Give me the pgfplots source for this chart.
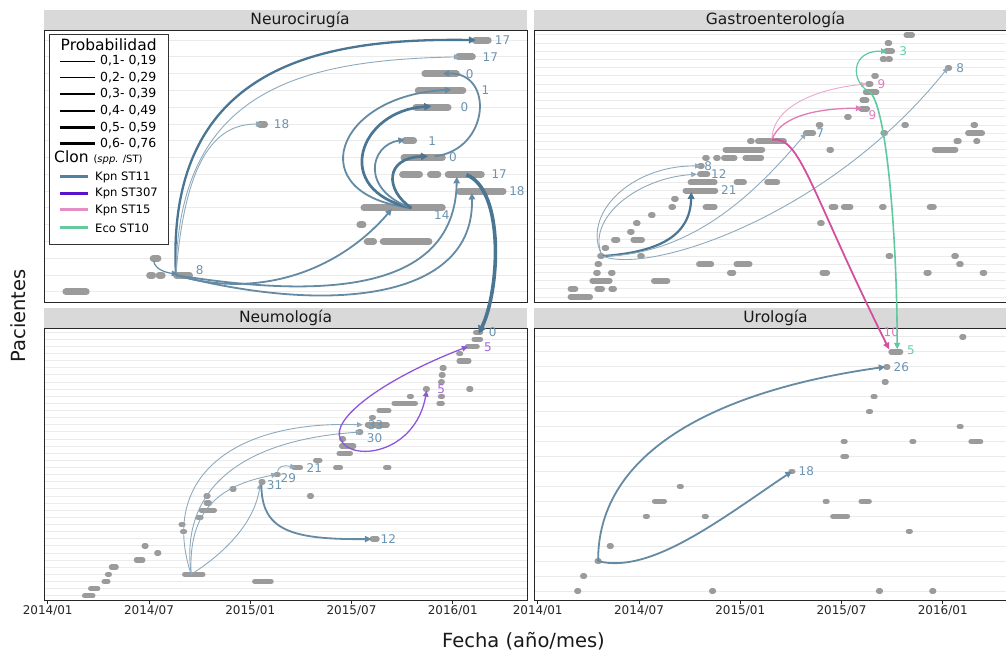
\documentclass[border=0pt]{standalone}
\usepackage{pgfplots}
\pgfplotsset{compat=1.18}
\usepackage{fontspec}
\setmainfont{DejaVu Sans}
\usetikzlibrary{arrows.meta}
\definecolor{st11}{RGB}{74,118,148}
\colorlet{st11a}{st11!62!white}
\colorlet{st11b}{st11!85!white}
\definecolor{st11lab}{RGB}{107,148,178}
\definecolor{st307}{RGB}{106,30,208}
\colorlet{st307a}{st307!75!white}
\definecolor{st307lab}{RGB}{160,102,224}
\definecolor{st15}{RGB}{212,80,159}
\colorlet{st15a}{st15!50!white}
\colorlet{st15b}{st15!75!white}
\definecolor{st15lab}{RGB}{224,125,192}
\definecolor{st10}{RGB}{95,201,160}
\definecolor{st10lab}{RGB}{102,204,170}
\definecolor{ptgray}{RGB}{155,155,155}
\definecolor{gridc}{RGB}{235,235,235}
\definecolor{stripc}{RGB}{217,217,217}
\definecolor{leg11}{RGB}{82,128,158}
\definecolor{leg307}{RGB}{91,18,204}
\definecolor{leg15}{RGB}{229,142,198}
\definecolor{leg10}{RGB}{100,203,159}
\newcommand\striptxt{\fontsize{15.5}{18}\selectfont}
\newcommand\tickfont{\fontsize{12}{14}\selectfont}
\newcommand\axtitle{\fontsize{19.5}{22}\selectfont}
\newcommand\labfont{\fontsize{12}{14}\selectfont}
\newcommand\legtitle{\fontsize{15.5}{18}\selectfont}
\newcommand\legtxt{\fontsize{12.5}{15}\selectfont}
\newcommand\legclon{\fontsize{11.6}{14}\selectfont}
\tikzset{arr/.style={-{Triangle[length=5pt 0.8,width=4pt 1.2]}},
  lab/.style={anchor=west,inner sep=0pt,font=\labfont}}
\pgfplotsset{panel/.style={scale only axis, width=483pt, height=272pt,
  xmin=-0.22, xmax=28.4, clip=false, anchor=south west,
  axis line style={black!85, line width=0.9pt},
  ymajorgrids, grid style={gridc, line width=1pt},
  yticklabel=\empty, ytick style={draw=none}, unbounded coords=jump},
  toppanel/.style={xtick=\empty},
  botpanel/.style={xtick={0,6,12,18,24},
  xticklabels={2014/01,2014/07,2015/01,2015/07,2016/01},
  xtick pos=left, tick align=outside, major tick length=3.5pt,
  xtick style={black!85, line width=0.9pt},
  xticklabel style={font=\tickfont, text=black!85, inner sep=1.5pt}}}
\begin{document}
\begin{tikzpicture}[x=1pt,y=1pt]
\useasboundingbox (0pt,0pt) rectangle (1006pt,653pt);
\clip (0pt,0pt) rectangle (1006pt,653pt);
\fill[white] (0pt,0pt) rectangle (1006pt,653pt);
% strips
\fill[stripc] (44pt,623pt) rectangle (527pt,643pt);
\fill[stripc] (534pt,623pt) rectangle (1017pt,643pt);
\fill[stripc] (44pt,325pt) rectangle (527pt,345pt);
\fill[stripc] (534pt,325pt) rectangle (1017pt,345pt);
\node[font=\striptxt, text=black!90] at (300pt,633pt) {Neurocirugía};
\node[font=\striptxt, text=black!90] at (775.5pt,633pt) {Gastroenterología};
\node[font=\striptxt, text=black!90] at (285.5pt,335pt) {Neumología};
\node[font=\striptxt, text=black!90] at (775.5pt,335pt) {Urología};

% ---------------- Neurocirugia ----------------
\begin{axis}[panel, toppanel, at={(44pt,351pt)}, ymin=0.4, ymax=16.6, ytick={1,...,16}]
\addplot[ptgray, line width=7pt, line cap=round] coordinates {
(25.33,16) (26.10,16) (nan,nan)
(24.33,15) (25.16,15) (nan,nan)
(22.35,14) (24.21,14) (nan,nan)
(21.96,13) (24.60,13) (nan,nan)
(21.82,12) (23.72,12) (nan,nan)
(12.57,11) (12.85,11) (nan,nan)
(21.17,10) (21.68,10) (nan,nan)
(21.11,9) (23.38,9) (nan,nan)
(21.03,8) (22.03,8) (nan,nan)
(22.68,8) (23.12,8) (nan,nan)
(23.73,8) (25.69,8) (nan,nan)
(24.39,7) (26.98,7) (nan,nan)
(18.74,6) (23.38,6) (nan,nan)
(18.50,5) (18.68,5) (nan,nan)
(18.93,4) (19.31,4) (nan,nan)
(19.88,4) (22.59,4) (nan,nan)
(6.25,3) (6.53,3) (nan,nan)
(6.04,2) (6.22,2) (nan,nan)
(6.60,2) (6.78,2) (nan,nan)
(7.63,2) (8.40,2) (nan,nan)
(1.08,1) (2.28,1)};
\draw[arr, st11, line width=2.3pt] (axis cs:7.6,2.0) .. controls (axis cs:6.93,14.81) and (axis cs:16.71,16.12) .. (axis cs:25.36,16);
\draw[arr, st11a, line width=0.9pt] (axis cs:7.6,2.0) .. controls (axis cs:7.70,13.02) and (axis cs:14.93,14.81) .. (axis cs:24.41,15);
\draw[arr, st11a, line width=0.9pt] (axis cs:7.6,2.0) .. controls (axis cs:8.12,8.86) and (axis cs:9.90,11.0) .. (axis cs:12.68,11);
\draw[arr, st11b, line width=1.8pt] (axis cs:7.6,2.0) .. controls (axis cs:12.56,0.52) and (axis cs:17.30,2.31) .. (axis cs:20.39,5.94);
\draw[arr, st11b, line width=1.8pt] (axis cs:7.6,2.0) .. controls (axis cs:16.71,0.52) and (axis cs:24.12,1.12) .. (axis cs:24.24,7.85);
\draw[arr, st11b, line width=1.8pt] (axis cs:7.6,2.0) .. controls (axis cs:16.71,-0.37) and (axis cs:25.30,0.52) .. (axis cs:25.13,6.89);
\draw[arr, st11b, line width=1.2pt] (axis cs:6.28,2.85) .. controls (axis cs:6.34,2.31) and (axis cs:7.11,2.13) .. (axis cs:7.70,2.07);
\draw[arr, st11b, line width=1.8pt] (axis cs:21.55,6) .. controls (axis cs:14.93,6.77) and (axis cs:17.01,12.73) .. (axis cs:23.92,13.04);
\draw[arr, st11, line width=2.7pt] (axis cs:21.55,6) .. controls (axis cs:16.71,7.07) and (axis cs:18.49,11.83) .. (axis cs:22.74,12.05);
\draw[arr, st11b, line width=1.8pt] (axis cs:21.55,6) .. controls (axis cs:18.49,7.07) and (axis cs:19.08,9.75) .. (axis cs:21.16,10.07);
\draw[arr, st11, line width=2.7pt] (axis cs:21.55,6) .. controls (axis cs:19.97,7.07) and (axis cs:19.97,8.98) .. (axis cs:22.54,9.08);
\draw[arr, st11b, line width=1.8pt] (axis cs:22.93,9.08) .. controls (axis cs:26.19,9.45) and (axis cs:26.49,14.1) .. (axis cs:23.41,14.0);
\coordinate (m0) at (axis cs:24.81,7.98);
\coordinate (m1) at (axis cs:27.08,7.07);
\coordinate (m2) at (axis cs:26.79,1.12);
\node[lab, text=st11lab] at (axis cs:26.49,16) {17};
\node[lab, text=st11lab] at (axis cs:25.76,15) {17};
\node[lab, text=st11lab] at (axis cs:24.77,14) {0};
\node[lab, text=st11lab] at (axis cs:25.70,13) {1};
\node[lab, text=st11lab] at (axis cs:24.46,12) {0};
\node[lab, text=st11lab] at (axis cs:13.39,11) {18};
\node[lab, text=st11lab] at (axis cs:22.54,10) {1};
\node[lab, text=st11lab] at (axis cs:23.78,9) {0};
\node[lab, text=st11lab] at (axis cs:26.29,8) {17};
\node[lab, text=st11lab] at (axis cs:27.34,7) {18};
\node[lab, text=st11lab] at (axis cs:22.89,5.57) {14};
\node[lab, text=st11lab] at (axis cs:8.77,2.27) {8};
\end{axis}

% ---------------- Gastroenterologia ----------------
\begin{axis}[panel, toppanel, at={(534pt,351pt)}, ymin=0.4, ymax=33.6, ytick={1,...,33}]
\addplot[ptgray, line width=6pt, line cap=round] coordinates {
(1.95,1) (3.10,1) (nan,nan)
(1.95,2) (2.23,2) (nan,nan) (3.53,2) (3.81,2) (nan,nan) (4.36,2) (4.52,2) (nan,nan)
(3.24,3) (4.26,3) (nan,nan) (6.89,3) (7.68,3) (nan,nan)
(3.46,4) (3.56,4) (nan,nan) (4.34,4) (4.44,4) (nan,nan) (11.39,4) (11.59,4) (nan,nan) (16.87,4) (17.15,4) (nan,nan) (23.03,4) (23.17,4) (nan,nan) (26.36,4) (26.46,4) (nan,nan)
(3.54,5) (3.64,5) (nan,nan) (9.56,5) (10.28,5) (nan,nan) (11.78,5) (12.55,5) (nan,nan) (24.97,5) (25.07,5) (nan,nan)
(3.70,6) (3.80,6) (nan,nan) (6.07,6) (6.17,6) (nan,nan) (20.79,6) (20.89,6) (nan,nan) (24.68,6) (24.78,6) (nan,nan)
(3.96,7) (4.06,7) (nan,nan)
(4.52,8) (4.72,8) (nan,nan) (5.67,8) (6.18,8) (nan,nan)
(5.47,9) (5.57,9) (nan,nan)
(5.82,10) (5.92,10) (nan,nan) (16.73,10) (16.83,10) (nan,nan)
(6.71,11) (6.81,11) (nan,nan)
(7.92,12) (8.02,12) (nan,nan) (9.95,12) (10.48,12) (nan,nan) (17.41,12) (17.64,12) (nan,nan) (18.14,12) (18.53,12) (nan,nan) (20.40,12) (20.50,12) (nan,nan) (23.23,12) (23.47,12) (nan,nan)
(8.08,13) (8.18,13) (nan,nan)
(8.76,14) (10.52,14) (nan,nan)
(9.06,15) (10.48,15) (nan,nan) (11.78,15) (12.22,15) (nan,nan) (13.60,15) (14.19,15) (nan,nan)
(9.62,16) (10.05,16) (nan,nan)
(9.62,17) (9.72,17) (nan,nan)
(9.92,18) (10.02,18) (nan,nan) (10.57,18) (10.67,18) (nan,nan) (11.04,18) (11.66,18) (nan,nan) (12.31,18) (13.24,18) (nan,nan)
(11.13,19) (13.30,19) (nan,nan) (17.28,19) (17.38,19) (nan,nan) (23.53,19) (24.75,19) (nan,nan)
(12.58,20) (12.68,20) (nan,nan) (13.05,20) (14.59,20) (nan,nan) (24.81,20) (24.95,20) (nan,nan) (25.98,20) (26.05,20) (nan,nan)
(15.89,21) (16.32,21) (nan,nan) (20.48,21) (20.58,21) (nan,nan) (25.50,21) (26.33,21) (nan,nan)
(16.65,22) (16.75,22) (nan,nan) (21.72,22) (21.82,22) (nan,nan) (25.82,22) (25.92,22) (nan,nan)
(18.33,23) (18.43,23) (nan,nan)
(19.18,24) (19.52,24) (nan,nan)
(19.24,25) (19.48,25) (nan,nan)
(19.44,26) (20.07,26) (nan,nan)
(19.58,27) (19.72,27) (nan,nan)
(19.94,28) (20.04,28) (nan,nan)
(24.30,29) (24.38,29) (nan,nan)
(20.44,30) (20.54,30) (nan,nan) (20.77,30) (20.87,30) (nan,nan)
(20.66,31) (21.00,31) (nan,nan)
(20.73,32) (20.83,32) (nan,nan)
(21.85,33) (22.18,33)};
\draw[arr, st11a, line width=0.9pt] (axis cs:3.83,6) .. controls (axis cs:2.53,11.0) and (axis cs:5.49,17.1) .. (axis cs:9.67,17);
\draw[arr, st11a, line width=0.9pt] (axis cs:3.83,6) .. controls (axis cs:2.82,10.39) and (axis cs:5.78,15.51) .. (axis cs:9.44,16);
\draw[arr, st11, line width=2.2pt] (axis cs:3.83,6) .. controls (axis cs:7.26,6.49) and (axis cs:9.04,8.56) .. (axis cs:9.10,13.8);
\draw[arr, st11a, line width=0.9pt] (axis cs:3.83,6) .. controls (axis cs:9.63,6.12) and (axis cs:13.48,15.27) .. (axis cs:15.91,21);
\draw[arr, st11a, line width=0.9pt] (axis cs:3.83,6) .. controls (axis cs:6.67,3.68) and (axis cs:17.33,11.0) .. (axis cs:24.32,29.05);
\draw[arr, st15a, line width=0.9pt] (axis cs:13.88,20.2) .. controls (axis cs:13.88,24.41) and (axis cs:16.74,26.49) .. (axis cs:19.5,27);
\draw[arr, st15b, line width=1.3pt] (axis cs:13.88,20.2) .. controls (axis cs:14.37,23.2) and (axis cs:16.74,24.05) .. (axis cs:19.21,24.05);
\draw[arr, st10, line width=1.2pt] (axis cs:19.70,26) .. controls (axis cs:18.51,27.22) and (axis cs:18.51,31.12) .. (axis cs:20.70,31);
\coordinate (p0) at (axis cs:13.88,20.2);
\coordinate (p1) at (axis cs:15.55,20.76);
\coordinate (p2) at (axis cs:16.13,14.05);
\coordinate (g0) at (axis cs:19.70,26);
\coordinate (g1) at (axis cs:20.76,23.8);
\coordinate (g2) at (axis cs:21.30,6.73);
\node[lab, text=st11lab] at (axis cs:9.87,17) {8};
\node[lab, text=st11lab] at (axis cs:10.27,16) {12};
\node[lab, text=st11lab] at (axis cs:10.86,14.05) {21};
\node[lab, text=st11lab] at (axis cs:16.5,21) {7};
\node[lab, text=st11lab] at (axis cs:24.8,29) {8};
\node[lab, text=st15lab] at (axis cs:20.13,27) {9};
\node[lab, text=st15lab] at (axis cs:19.6,23.16) {9};
\node[lab, text=st10lab] at (axis cs:21.42,31) {3};
\end{axis}

% ---------------- Neumologia ----------------
\begin{axis}[panel, botpanel, at={(44pt,53pt)}, ymin=0.4, ymax=38.6, ytick={1,...,38}]
\addplot[ptgray, line width=5.5pt, line cap=round] coordinates {
(2.19,1) (2.67,1) (nan,nan)
(2.55,2) (2.96,2) (nan,nan)
(3.35,3) (3.56,3) (nan,nan) (12.27,3) (13.23,3) (nan,nan)
(3.55,4) (3.65,4) (nan,nan) (8.12,4) (9.19,4) (nan,nan)
(3.78,5) (4.05,5) (nan,nan)
(5.26,6) (5.63,6) (nan,nan)
(6.47,7) (6.57,7) (nan,nan)
(5.72,8) (5.82,8) (nan,nan)
(19.24,9) (19.51,9) (nan,nan)
(8.00,10) (8.10,10) (nan,nan)
(7.91,11) (8.01,11) (nan,nan)
(8.91,12) (9.08,12) (nan,nan)
(9.11,13) (9.87,13) (nan,nan)
(9.40,14) (9.58,14) (nan,nan)
(9.39,15) (9.49,15) (nan,nan) (15.52,15) (15.62,15) (nan,nan)
(10.93,16) (11.03,16) (nan,nan)
(12.65,17) (12.75,17) (nan,nan)
(13.55,18) (13.65,18) (nan,nan)
(14.60,19) (14.97,19) (nan,nan) (17.07,19) (17.34,19) (nan,nan) (20.03,19) (20.21,19) (nan,nan)
(15.88,20) (16.12,20) (nan,nan)
(17.27,21) (17.93,21) (nan,nan)
(17.42,22) (18.13,22) (nan,nan)
(17.42,23) (17.52,23) (nan,nan)
(18.44,24) (18.54,24) (nan,nan)
(18.95,25) (20.11,25) (nan,nan)
(19.19,26) (19.29,26) (nan,nan)
(19.64,27) (20.21,27) (nan,nan)
(20.53,28) (21.78,28) (nan,nan) (23.19,28) (23.37,28) (nan,nan)
(21.44,29) (21.54,29) (nan,nan) (23.28,29) (23.38,29) (nan,nan)
(22.39,30) (22.49,30) (nan,nan) (24.96,30) (25.06,30) (nan,nan)
(23.29,31) (23.37,31) (nan,nan)
(23.33,32) (23.42,32) (nan,nan)
(23.38,33) (23.48,33) (nan,nan)
(24.38,34) (24.95,34) (nan,nan)
(24.36,35) (24.46,35) (nan,nan)
(24.87,36) (25.44,36) (nan,nan)
(25.27,37) (25.64,37) (nan,nan)
(25.36,38) (25.64,38)};
\draw[arr, st11a, line width=0.9pt] (axis cs:8.5,4) .. controls (axis cs:6.64,17.25) and (axis cs:10.79,25.63) .. (axis cs:18.67,25);
\draw[arr, st11a, line width=0.9pt] (axis cs:8.5,4) .. controls (axis cs:7.82,15.85) and (axis cs:11.38,22.84) .. (axis cs:18.59,24);
\draw[arr, st11a, line width=0.9pt] (axis cs:8.5,4) .. controls (axis cs:8.30,13.05) and (axis cs:10.19,16.54) .. (axis cs:13.59,18.04);
\draw[arr, st11a, line width=0.9pt] (axis cs:8.5,4) .. controls (axis cs:10.79,7.47) and (axis cs:12.27,11.66) .. (axis cs:12.6,16.8);
\draw[arr, st11a, line width=0.9pt] (axis cs:13.63,18.08) .. controls (axis cs:13.57,19.34) and (axis cs:14.04,19.34) .. (axis cs:14.70,19.02);
\draw[arr, st11b, line width=1.8pt] (axis cs:12.66,16.54) .. controls (axis cs:12.68,10.26) and (axis cs:14.34,8.86) .. (axis cs:19.18,8.96);
\draw[arr, st307a, line width=1.3pt] (axis cs:17.36,22.97) .. controls (axis cs:17.90,19.76) and (axis cs:21.75,20.74) .. (axis cs:22.46,29.81);
\draw[arr, st307a, line width=1.3pt] (axis cs:17.36,22.97) .. controls (axis cs:16.71,25.62) and (axis cs:19.67,31.21) .. (axis cs:24.9,36.0);
\coordinate (m3) at (axis cs:25.54,37.8);
\node[lab, text=st11lab] at (axis cs:26.13,37.95) {0};
\node[lab, text=st307lab] at (axis cs:25.84,35.9) {5};
\node[lab, text=st11lab] at (axis cs:18.96,25) {33};
\node[lab, text=st11lab] at (axis cs:18.9,23.15) {30};
\node[lab, text=st11lab] at (axis cs:15.33,18.9) {21};
\node[lab, text=st11lab] at (axis cs:13.79,17.56) {29};
\node[lab, text=st11lab] at (axis cs:12.98,16.54) {31};
\node[lab, text=st11lab] at (axis cs:19.72,9) {12};
\node[lab, text=st307lab] at (axis cs:23.07,30) {5};
\end{axis}

% ---------------- Urologia ----------------
\begin{axis}[panel, botpanel, at={(534pt,53pt)}, ymin=0.4, ymax=18.6, ytick={1,...,18}]
\addplot[ptgray, line width=5.5pt, line cap=round] coordinates {
(25.14,18) (25.24,18) (nan,nan)
(20.94,17) (21.50,17) (nan,nan)
(20.64,16) (20.74,16) (nan,nan)
(20.54,15) (20.64,15) (nan,nan)
(19.88,14) (19.98,14) (nan,nan)
(19.61,13) (19.71,13) (nan,nan)
(24.98,12) (25.08,12) (nan,nan)
(18.11,11) (18.21,11) (nan,nan) (22.18,11) (22.28,11) (nan,nan) (25.68,11) (26.24,11) (nan,nan)
(18.09,10) (18.29,10) (nan,nan)
(15.01,9) (15.11,9) (nan,nan)
(8.40,8) (8.50,8) (nan,nan)
(6.93,7) (7.50,7) (nan,nan) (17.04,7) (17.14,7) (nan,nan) (19.17,7) (19.64,7) (nan,nan)
(6.39,6) (6.49,6) (nan,nan) (9.88,6) (9.98,6) (nan,nan) (17.49,6) (18.35,6) (nan,nan)
(21.97,5) (22.07,5) (nan,nan)
(4.25,4) (4.35,4) (nan,nan)
(3.53,3) (3.63,3) (nan,nan)
(2.67,2) (2.77,2) (nan,nan)
(2.32,1) (2.42,1) (nan,nan) (10.31,1) (10.41,1) (nan,nan) (20.20,1) (20.30,1) (nan,nan) (23.36,1) (23.46,1)};
\draw[arr, st11b, line width=1.8pt] (axis cs:3.58,3) .. controls (axis cs:3.53,10.45) and (axis cs:10.82,14.45) .. (axis cs:20.59,16);
\draw[arr, st11b, line width=1.8pt] (axis cs:3.58,3) .. controls (axis cs:6.67,2.11) and (axis cs:10.82,5.78) .. (axis cs:15.06,9);
\coordinate (p3) at (axis cs:20.82,17.18);
\coordinate (g3) at (axis cs:21.30,17.18);
\node[lab, text=st11lab] at (axis cs:21.08,16) {26};
\node[lab, text=st11lab] at (axis cs:15.45,9) {18};
\node[lab, text=st15lab] at (axis cs:20.49,18.35) {10};
\node[lab, text=st10lab] at (axis cs:21.87,17.1) {5};
\end{axis}

% arrows that cross panels
\draw[arr, st11, line width=3.6pt] (m0) .. controls (m1) and (m2) .. (m3);
\draw[arr, st15, line width=1.8pt] (p0) .. controls (p1) and (p2) .. (p3);
\draw[arr, st10, line width=1.6pt] (g0) .. controls (g1) and (g2) .. (g3);

% legend
\draw[black!80, line width=0.8pt, fill=white] (49pt,409pt) rectangle (168pt,619pt);
\node[anchor=west, inner sep=0pt, font=\legtitle] at (60.5pt,608pt) {Probabilidad};
\draw[black, line width=0.6pt] (60pt,592pt) -- (95pt,592pt);
\node[anchor=west, inner sep=0pt, font=\legtxt] at (100pt,592pt) {0,1- 0,19};
\draw[black, line width=1.1pt] (60pt,575.7pt) -- (95pt,575.7pt);
\node[anchor=west, inner sep=0pt, font=\legtxt] at (100pt,575.7pt) {0,2- 0,29};
\draw[black, line width=1.6pt] (60pt,559pt) -- (95pt,559pt);
\node[anchor=west, inner sep=0pt, font=\legtxt] at (100pt,559pt) {0,3- 0,39};
\draw[black, line width=2.1pt] (60pt,542.3pt) -- (95pt,542.3pt);
\node[anchor=west, inner sep=0pt, font=\legtxt] at (100pt,542.3pt) {0,4- 0,49};
\draw[black, line width=2.6pt] (60pt,525.7pt) -- (95pt,525.7pt);
\node[anchor=west, inner sep=0pt, font=\legtxt] at (100pt,525.7pt) {0,5- 0,59};
\draw[black, line width=3.2pt] (60pt,509.5pt) -- (95pt,509.5pt);
\node[anchor=west, inner sep=0pt, font=\legtxt] at (100pt,509.5pt) {0,6- 0,76};
\node[anchor=west, inner sep=0pt, font=\legtitle] at (54pt,495pt) {Clon {\fontsize{10}{12}\selectfont(\textit{spp.} /ST)}};
\draw[leg11, line width=3pt] (60pt,476pt) -- (88pt,476pt);
\node[anchor=west, inner sep=0pt, font=\legclon] at (95pt,476pt) {Kpn ST11};
\draw[leg307, line width=3pt] (60pt,459.7pt) -- (88pt,459.7pt);
\node[anchor=west, inner sep=0pt, font=\legclon] at (95pt,459.7pt) {Kpn ST307};
\draw[leg15, line width=3pt] (60pt,443pt) -- (88pt,443pt);
\node[anchor=west, inner sep=0pt, font=\legclon] at (95pt,443pt) {Kpn ST15};
\draw[leg10, line width=3pt] (60pt,425pt) -- (88pt,425pt);
\node[anchor=west, inner sep=0pt, font=\legclon] at (95pt,425pt) {Eco ST10};

% axis titles
\node[rotate=90, font=\axtitle, text=black!90] at (18pt,337pt) {Pacientes};
\node[font=\axtitle, text=black!90] at (523.5pt,12pt) {Fecha (año/mes)};
\end{tikzpicture}
\end{document}
